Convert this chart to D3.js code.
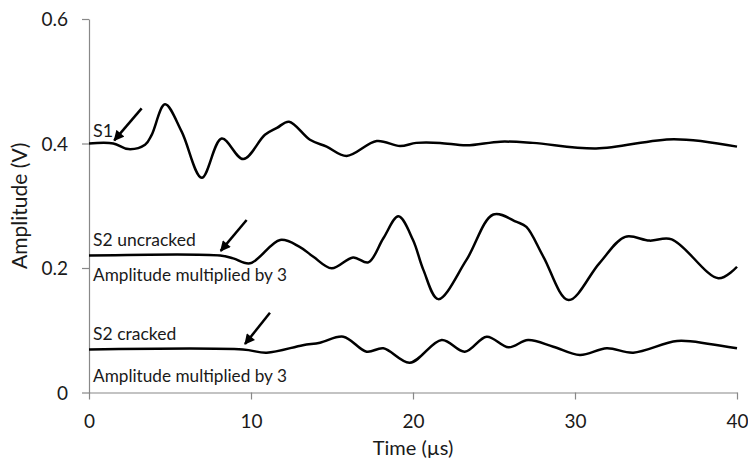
<!DOCTYPE html>
<html>
<head>
<meta charset="utf-8">
<script src="https://cdn.jsdelivr.net/npm/d3@7"></script>
<style>
  body { margin: 0; background: #fff; }
  text { font-family: Lato, "Open Sans", sans-serif; fill: #1a1a1a; }
</style>
</head>
<body>
<div class="chart"></div>
<script>
// S1 (V)
var t1 = [0, 1.5, 2.43, 3.46, 3.87, 4.69, 5.72, 6.96, 8.19, 9.52, 10.86, 11.6, 12.35, 13.64, 14.67, 15.9, 17.76, 19.2, 20.2, 21.67, 23.3, 25.4, 27.4, 31.3, 36.1, 40];
var v1 = [0.4, 0.4, 0.391, 0.398, 0.414, 0.463, 0.419, 0.345, 0.408, 0.375, 0.414, 0.425, 0.435, 0.406, 0.395, 0.38, 0.404, 0.396, 0.401, 0.401, 0.397, 0.403, 0.401, 0.392, 0.407, 0.395];
// S2 uncracked (x3)
var t2 = [0, 8.1, 8.9, 9.94, 11.8, 13.0, 13.85, 14.98, 16.3, 17.24, 18.17, 19.1, 20.0, 20.64, 21.56, 23.3, 24.96, 26.4, 27.0, 28.05, 29.6, 31.5, 33.1, 34.6, 35.97, 38.85, 40];
var v2 = [0.22, 0.22, 0.2155, 0.2075, 0.245, 0.234, 0.218, 0.1995, 0.217, 0.209, 0.2477, 0.283, 0.245, 0.197, 0.15, 0.213, 0.286, 0.274, 0.266, 0.218, 0.1486, 0.2075, 0.25, 0.244, 0.246, 0.1835, 0.202];
// S2 cracked (x3)
var t3 = [0, 9.5, 10.97, 13.2, 14.26, 15.7, 17.14, 18.17, 19.8, 21.77, 23.2, 24.55, 25.9, 27.1, 28.66, 30.3, 31.96, 33.6, 36.3, 38.3, 40];
var v3 = [0.069, 0.069, 0.064, 0.076, 0.08, 0.0897, 0.0656, 0.071, 0.0479, 0.0843, 0.0656, 0.0897, 0.0726, 0.0843, 0.0736, 0.0602, 0.071, 0.064, 0.0827, 0.078, 0.071];

var xTicks = [0, 10, 20, 30, 40];
var yTicks = [0, 0.2, 0.4, 0.6];

// labels and arrows, in data units
var labels = [
  {text: "S1", t: 0.25, v: 0.411, size: 18},
  {text: "S2 uncracked", t: 0.25, v: 0.236, size: 17.5},
  {text: "Amplitude multiplied by 3", t: 0.25, v: 0.1796, size: 17.2},
  {text: "S2 cracked", t: 0.25, v: 0.0843, size: 17.5},
  {text: "Amplitude multiplied by 3", t: 0.25, v: 0.0173, size: 17.2}
];
var arrows = [
  {t0: 3.25, v0: 0.4565, t1: 1.56, v1: 0.405},
  {t0: 9.73, v0: 0.277, t1: 8.13, v1: 0.2275},
  {t0: 11.17, v0: 0.128, t1: 9.63, v1: 0.0779}
];

var width = 748, height = 461;
var x = d3.scaleLinear().domain([0, 40]).range([89, 737]);
var y = d3.scaleLinear().domain([0, 0.6]).range([392.5, 19]);

var svg = d3.select(".chart").append("svg")
    .attr("width", width)
    .attr("height", height);

svg.append("defs").append("marker")
    .attr("id", "head")
    .attr("viewBox", "0 0 10 10")
    .attr("refX", 9).attr("refY", 5)
    .attr("markerWidth", 4.6).attr("markerHeight", 4.2)
    .attr("markerUnits", "strokeWidth")
    .attr("orient", "auto")
  .append("path")
    .attr("d", "M0,0L10,5L0,10z")
    .attr("fill", "#000");

var xAxis = svg.append("g")
    .attr("transform", "translate(0," + y(0) + ")")
    .call(d3.axisBottom(x).tickValues(xTicks).tickSize(7).tickSizeOuter(0));
var yAxis = svg.append("g")
    .attr("transform", "translate(" + x(0) + ",0)")
    .call(d3.axisLeft(y).tickValues(yTicks).tickSize(7).tickSizeOuter(0)
      .tickFormat(function(d) { return d === 0 ? "0" : d3.format(".1f")(d); }));

[xAxis, yAxis].forEach(function(g) {
  g.select(".domain").attr("stroke", "#888").attr("stroke-width", 1.2);
  g.selectAll(".tick line").attr("stroke", "#888").attr("stroke-width", 1.2);
  g.selectAll(".tick text").attr("font-size", 19).attr("fill", "#1a1a1a")
    .attr("font-family", "Lato, sans-serif");
});
xAxis.selectAll(".tick text").attr("y", 35.5).attr("dy", 0);
yAxis.selectAll(".tick text").attr("x", -21).attr("dy", "0.35em");

svg.append("text")
    .attr("x", x(20)).attr("y", 455)
    .attr("text-anchor", "middle")
    .attr("font-size", 20)
    .text("Time (µs)");
svg.append("text")
    .attr("transform", "translate(27," + ((y(0) + y(0.6)) / 2) + ") rotate(-90)")
    .attr("text-anchor", "middle")
    .attr("font-size", 21)
    .text("Amplitude (V)");

var line = d3.line()
    .curve(d3.curveCatmullRom.alpha(0.5))
    .x(function(d) { return x(d[0]); })
    .y(function(d) { return y(d[1]); });

[[t1, v1], [t2, v2], [t3, v3]].forEach(function(s) {
  svg.append("path")
    .datum(d3.zip(s[0], s[1]))
    .attr("fill", "none")
    .attr("stroke", "#000")
    .attr("stroke-width", 2.5)
    .attr("d", line);
});

svg.selectAll(".lbl")
    .data(labels)
  .enter().append("text")
    .attr("class", "lbl")
    .attr("x", function(d) { return x(d.t); })
    .attr("y", function(d) { return y(d.v); })
    .attr("font-size", function(d) { return d.size; })
    .text(function(d) { return d.text; });

svg.selectAll(".arr")
    .data(arrows)
  .enter().append("line")
    .attr("class", "arr")
    .attr("x1", function(d) { return x(d.t0); })
    .attr("y1", function(d) { return y(d.v0); })
    .attr("x2", function(d) { return x(d.t1); })
    .attr("y2", function(d) { return y(d.v1); })
    .attr("stroke", "#000")
    .attr("stroke-width", 2.5)
    .attr("marker-end", "url(#head)");
</script>
</body>
</html>
